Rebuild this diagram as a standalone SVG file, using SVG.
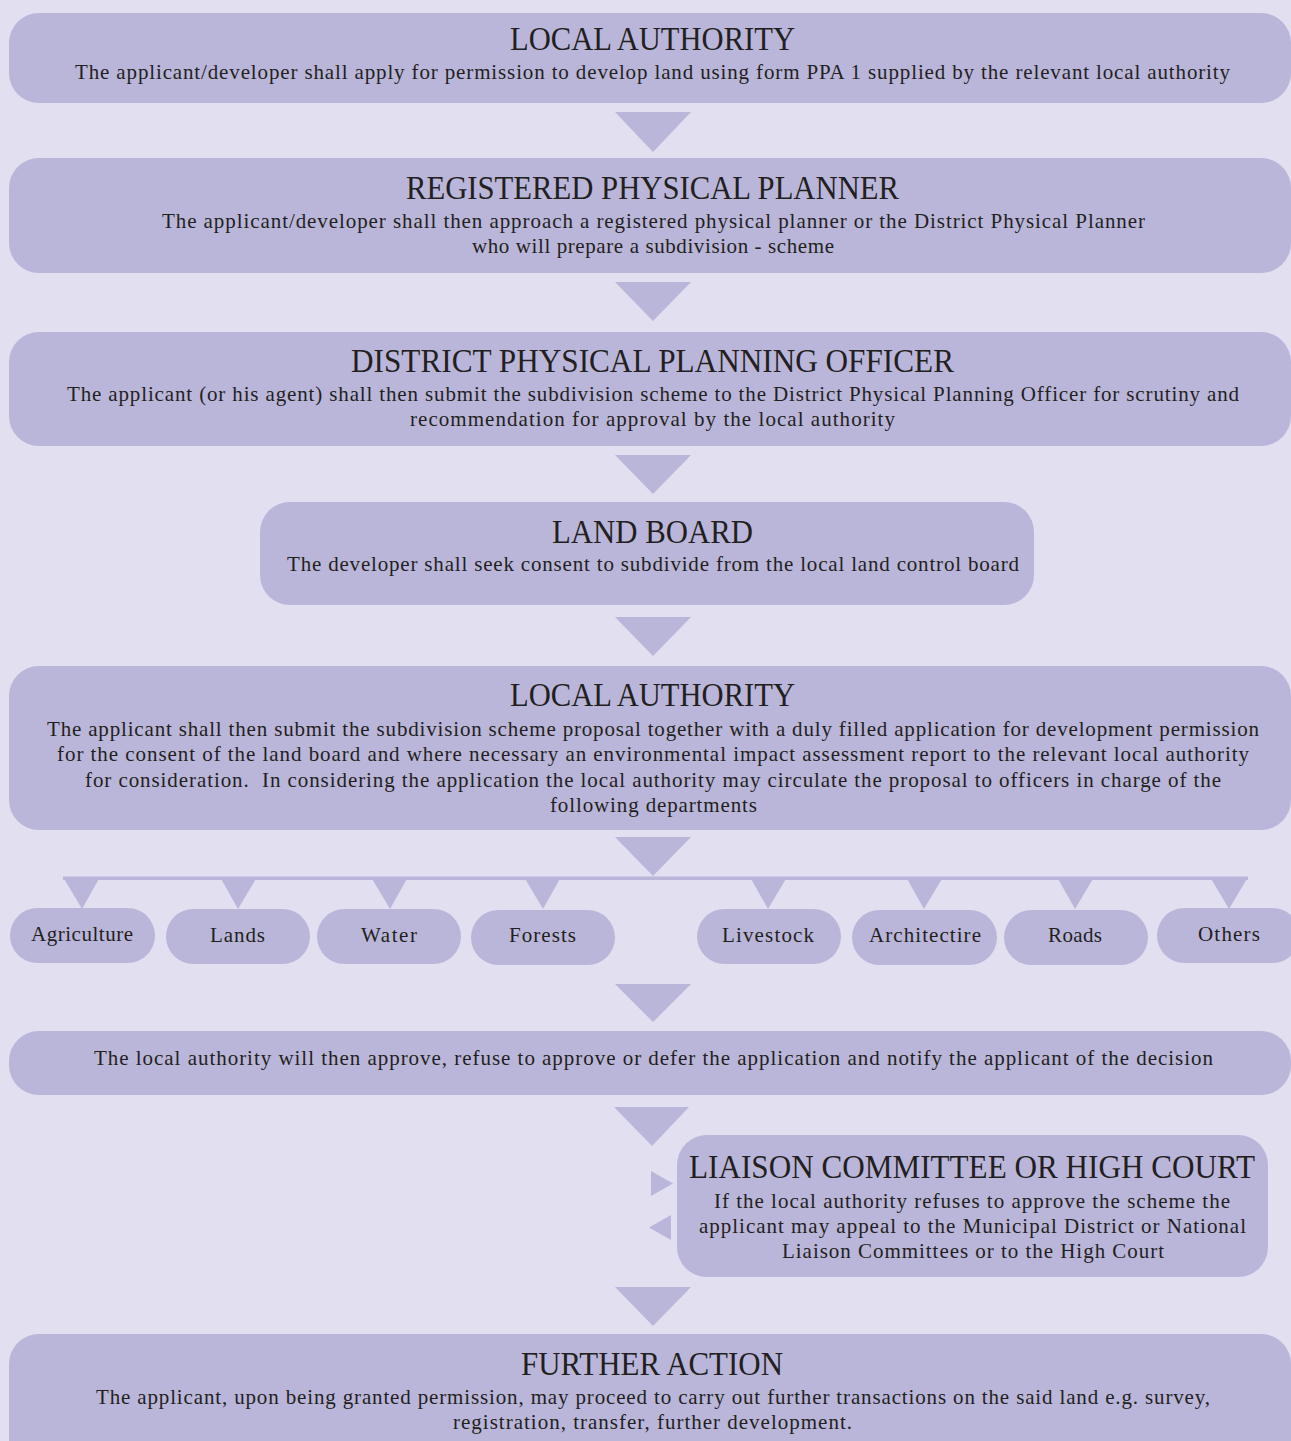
<svg xmlns="http://www.w3.org/2000/svg" width="1291" height="1441" viewBox="0 0 1291 1441">
<style>
.bg{fill:#E1DFF0}
.box{fill:#BAB6DA}
.arr{fill:#BAB6DA}
.ttl{font-family:"Liberation Serif","Times New Roman",serif;font-size:33px;fill:#231F20;text-anchor:middle}
.txt{font-family:"Liberation Serif","Times New Roman",serif;font-size:21px;fill:#231F20;text-anchor:middle}
.pill{font-family:"Liberation Serif","Times New Roman",serif;font-size:21px;fill:#231F20;text-anchor:middle}
</style>
<rect class="bg" x="0" y="0" width="1291" height="1441"/>
<g id="connectors">
  <polygon class="arr" points="615,112 691,112 653,152"/>
  <polygon class="arr" points="615,282 691,282 653,321"/>
  <polygon class="arr" points="615,455 691,455 653,494"/>
  <polygon class="arr" points="615,617 691,617 653,656"/>
  <polygon class="arr" points="615,837 691,837 653,876"/>
  <rect class="arr" x="63" y="876.5" width="1185" height="3.5"/>
  <polygon class="arr" points="63,877 100,877 82,909"/>
  <polygon class="arr" points="220,877 257,877 238,909"/>
  <polygon class="arr" points="371,877 408,877 390,909"/>
  <polygon class="arr" points="524,877 561,877 543,909"/>
  <polygon class="arr" points="750,877 787,877 768,909"/>
  <polygon class="arr" points="906,877 943,877 924,909"/>
  <polygon class="arr" points="1057,877 1094,877 1075,909"/>
  <polygon class="arr" points="1210,877 1248,877 1229,909"/>
  <polygon class="arr" points="615,984 691,984 653,1022"/>
  <polygon class="arr" points="614,1107 689,1107 652,1146"/>
  <polygon class="arr" points="651,1171 673,1183.5 651,1196"/>
  <polygon class="arr" points="671,1215 649,1227.5 671,1240"/>
  <polygon class="arr" points="615,1287 691,1287 653,1326"/>
</g>
<g id="node-local-authority-1">
  <rect class="box" x="9" y="13" width="1282" height="90" rx="30"/>
  <text class="ttl" x="652.5" y="50" textLength="285" lengthAdjust="spacingAndGlyphs">LOCAL AUTHORITY</text>
  <text class="txt" x="652.5" y="79" textLength="1155" lengthAdjust="spacing">The applicant/developer shall apply for permission to develop land using form PPA 1 supplied by the relevant local authority</text>
</g>
<g id="node-registered-physical-planner">
  <rect class="box" x="9" y="158" width="1282" height="115" rx="30"/>
  <text class="ttl" x="652.5" y="199" textLength="493" lengthAdjust="spacingAndGlyphs">REGISTERED PHYSICAL PLANNER</text>
  <text class="txt" x="653.5" y="228" textLength="983" lengthAdjust="spacing">The applicant/developer shall then approach a registered physical planner or the District Physical Planner</text>
  <text class="txt" x="653" y="253" textLength="362" lengthAdjust="spacing">who will prepare a subdivision - scheme</text>
</g>
<g id="node-district-physical-planning-officer">
  <rect class="box" x="9" y="332" width="1282" height="114" rx="30"/>
  <text class="ttl" x="652.5" y="372" textLength="603" lengthAdjust="spacingAndGlyphs">DISTRICT PHYSICAL PLANNING OFFICER</text>
  <text class="txt" x="653" y="401" textLength="1172" lengthAdjust="spacing">The applicant (or his agent) shall then submit the subdivision scheme to the District Physical Planning Officer for scrutiny and</text>
  <text class="txt" x="652.5" y="426" textLength="485" lengthAdjust="spacing">recommendation for approval by the local authority</text>
</g>
<g id="node-land-board">
  <rect class="box" x="260" y="502" width="774" height="103" rx="30"/>
  <text class="ttl" x="652.5" y="543" textLength="201" lengthAdjust="spacingAndGlyphs">LAND BOARD</text>
  <text class="txt" x="653" y="571" textLength="732" lengthAdjust="spacing">The developer shall seek consent to subdivide from the local land control board</text>
</g>
<g id="node-local-authority-2">
  <rect class="box" x="9" y="666" width="1282" height="164" rx="30"/>
  <text class="ttl" x="652.5" y="706" textLength="285" lengthAdjust="spacingAndGlyphs">LOCAL AUTHORITY</text>
  <text class="txt" x="653" y="736" textLength="1212" lengthAdjust="spacing">The applicant shall then submit the subdivision scheme proposal together with a duly filled application for development permission</text>
  <text class="txt" x="653" y="761" textLength="1192" lengthAdjust="spacing">for the consent of the land board and where necessary an environmental impact assessment report to the relevant local authority</text>
  <text class="txt" x="653" y="787" textLength="1136" lengthAdjust="spacing" xml:space="preserve">for consideration.  In considering the application the local authority may circulate the proposal to officers in charge of the</text>
  <text class="txt" x="653.5" y="812" textLength="207" lengthAdjust="spacing">following departments</text>
</g>
<g id="node-agriculture">
  <rect class="box" x="10" y="908" width="145" height="55" rx="27.5"/>
  <text class="pill" x="82" y="941" textLength="102" lengthAdjust="spacing">Agriculture</text>
</g>
<g id="node-lands">
  <rect class="box" x="166" y="909" width="144" height="55" rx="27.5"/>
  <text class="pill" x="237.5" y="942" textLength="55" lengthAdjust="spacing">Lands</text>
</g>
<g id="node-water">
  <rect class="box" x="317" y="909" width="144" height="55" rx="27.5"/>
  <text class="pill" x="389" y="942" textLength="56" lengthAdjust="spacing">Water</text>
</g>
<g id="node-forests">
  <rect class="box" x="471" y="910" width="144" height="55" rx="27.5"/>
  <text class="pill" x="542.5" y="942" textLength="67" lengthAdjust="spacing">Forests</text>
</g>
<g id="node-livestock">
  <rect class="box" x="697" y="909" width="144" height="55" rx="27.5"/>
  <text class="pill" x="768" y="942" textLength="92" lengthAdjust="spacing">Livestock</text>
</g>
<g id="node-architectire">
  <rect class="box" x="852" y="910" width="145" height="55" rx="27.5"/>
  <text class="pill" x="925" y="942" textLength="112" lengthAdjust="spacing">Architectire</text>
</g>
<g id="node-roads">
  <rect class="box" x="1004" y="910" width="144" height="55" rx="27.5"/>
  <text class="pill" x="1075" y="942" textLength="54" lengthAdjust="spacing">Roads</text>
</g>
<g id="node-others">
  <rect class="box" x="1157" y="908" width="143" height="55" rx="27.5"/>
  <text class="pill" x="1229" y="941" textLength="62" lengthAdjust="spacing">Others</text>
</g>
<g id="node-decision">
  <rect class="box" x="9" y="1031" width="1282" height="64" rx="30"/>
  <text class="txt" x="653.5" y="1065" textLength="1119" lengthAdjust="spacing">The local authority will then approve, refuse to approve or defer the application and notify the applicant of the decision</text>
</g>
<g id="node-liaison-committee">
  <rect class="box" x="677" y="1135" width="591" height="142" rx="30"/>
  <text class="ttl" x="972" y="1178" textLength="566" lengthAdjust="spacingAndGlyphs">LIAISON COMMITTEE OR HIGH COURT</text>
  <text class="txt" x="972" y="1208" textLength="516" lengthAdjust="spacing">If the local authority refuses to approve the scheme the</text>
  <text class="txt" x="972.5" y="1233" textLength="547" lengthAdjust="spacing">applicant may appeal to the Municipal District or National</text>
  <text class="txt" x="973" y="1258" textLength="382" lengthAdjust="spacing">Liaison Committees or to the High Court</text>
</g>
<g id="node-further-action">
  <rect class="box" x="9" y="1334" width="1282" height="140" rx="30"/>
  <text class="ttl" x="652" y="1375" textLength="262" lengthAdjust="spacingAndGlyphs">FURTHER ACTION</text>
  <text class="txt" x="653" y="1404" textLength="1114" lengthAdjust="spacing">The applicant, upon being granted permission, may proceed to carry out further transactions on the said land e.g. survey,</text>
  <text class="txt" x="652.5" y="1429" textLength="399" lengthAdjust="spacing">registration, transfer, further development.</text>
</g>
</svg>
